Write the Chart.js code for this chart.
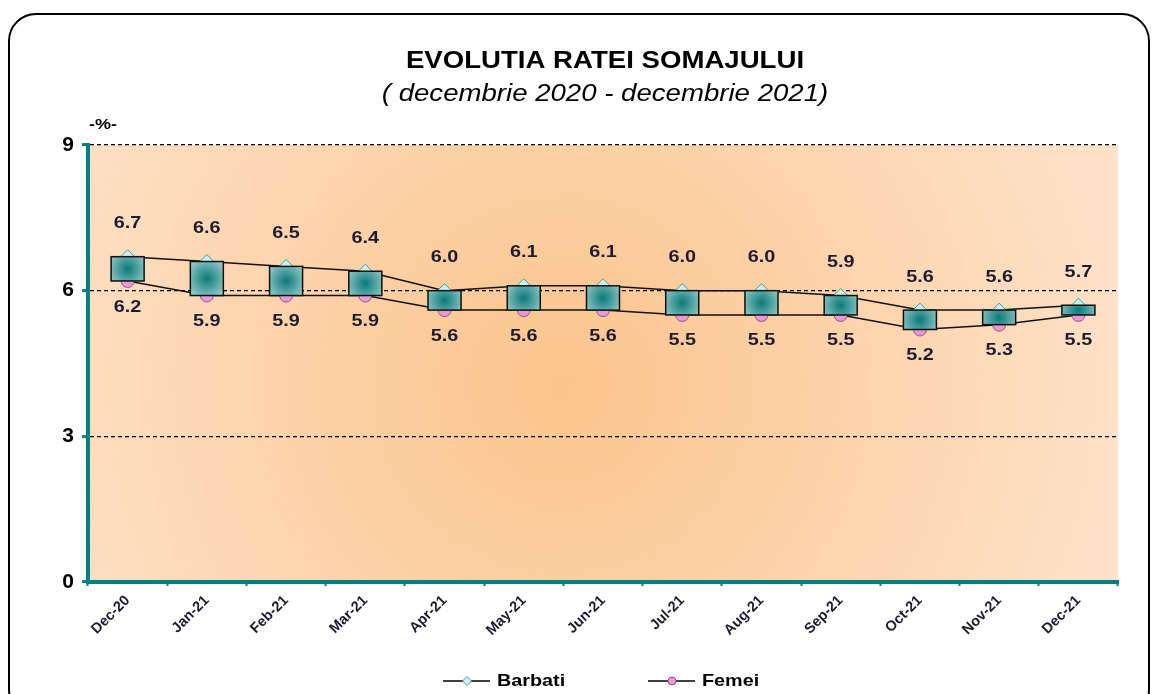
<!DOCTYPE html>
<html>
<head>
<meta charset="utf-8">
<script src="https://cdn.jsdelivr.net/npm/chart.js@4/dist/chart.umd.min.js"></script>
<style>
    html, body { margin: 0; padding: 0; background: #fff; overflow: hidden; }
    #wrap { position: relative; width: 1154px; height: 694px; }
    #frame {
        position: absolute; left: 8px; top: 13px; width: 1138px; height: 700px;
        border: 2px solid #000; border-radius: 28px;
    }
    #c { position: absolute; left: 0; top: 0; }
</style>
</head>
<body>
<div id="wrap">
    <div id="frame"></div>
    <canvas id="c" width="1154" height="694"></canvas>
</div>
<script>

// data
const months = ['Dec-20', 'Jan-21', 'Feb-21', 'Mar-21', 'Apr-21', 'May-21', 'Jun-21',
                'Jul-21', 'Aug-21', 'Sep-21', 'Oct-21', 'Nov-21', 'Dec-21'];
const barbati = [6.7, 6.6, 6.5, 6.4, 6.0, 6.1, 6.1, 6.0, 6.0, 5.9, 5.6, 5.6, 5.7];
const femei   = [6.2, 5.9, 5.9, 5.9, 5.6, 5.6, 5.6, 5.5, 5.5, 5.5, 5.2, 5.3, 5.5];
const yTicks  = [0, 3, 6, 9];

const titleText = 'EVOLUTIA RATEI SOMAJULUI';
const subtitleText = '( decembrie 2020 - decembrie 2021)';

const TEAL = '#008080';
const LABEL_COLOR = '#1b1b33';
const FONT = '"Liberation Sans", Arial, sans-serif';
const STRETCH = 1.2; // text in the original is drawn a bit wider than plain Arial

// up/down boxes between the two series (low = femei, high = barbati)
const upDown = months.map((m, i) => [femei[i], barbati[i]]);

// draw text scaled horizontally around its anchor
function stretchedText(ctx, text, x, y, font, align) {
    ctx.save();
    ctx.font = font;
    ctx.textAlign = align || 'center';
    ctx.textBaseline = 'middle';
    ctx.translate(x, y);
    ctx.scale(STRETCH, 1);
    ctx.fillText(text, 0, 0);
    ctx.restore();
}

// peach radial background of the plot area
const plotBackground = {
    id: 'plotBackground',
    beforeDraw(chart) {
        const { ctx, chartArea: a } = chart;
        const cx = a.left + (a.right - a.left) * 0.46;
        const cy = a.top + (a.bottom - a.top) * 0.55;
        const g = ctx.createRadialGradient(cx, cy, 0, cx, cy, 560);
        g.addColorStop(0, '#fbc48c');
        g.addColorStop(1, '#fee1c7');
        ctx.save();
        ctx.fillStyle = g;
        ctx.fillRect(a.left, a.top, a.right - a.left, a.bottom - a.top);
        ctx.restore();
    }
};

// paint teal gradient inside every up/down box
const boxFill = {
    id: 'boxFill',
    afterDatasetDraw(chart, args) {
        if (args.meta.type !== 'bar') return;
        const ctx = chart.ctx;
        ctx.save();
        args.meta.data.forEach(el => {
            const p = el.getProps(['x', 'y', 'base', 'width'], true);
            const top = Math.min(p.y, p.base), h = Math.abs(p.base - p.y);
            const left = p.x - p.width / 2;
            const cy = top + h / 2;
            const g = ctx.createRadialGradient(p.x, cy, 0, p.x, cy, Math.max(p.width, h) * 0.7);
            g.addColorStop(0, '#0b7a7a');
            g.addColorStop(1, '#a6d4d2');
            ctx.fillStyle = g;
            ctx.fillRect(left, top, p.width, h);
            ctx.lineWidth = 1.5;
            ctx.strokeStyle = '#111';
            ctx.strokeRect(left, top, p.width, h);
        });
        ctx.restore();
    }
};

// titles, value labels and the unit above the value axis
const textLayer = {
    id: 'textLayer',
    afterDatasetsDraw(chart) {
        const ctx = chart.ctx;
        ctx.save();
        ctx.fillStyle = '#000';
        stretchedText(ctx, titleText, 605, 62, 'bold 23px ' + FONT);
        stretchedText(ctx, subtitleText, 605, 95, 'italic 23px ' + FONT);
        stretchedText(ctx, '-%-', chart.chartArea.left + 15, chart.chartArea.top - 20, 'bold 15px ' + FONT);

        ctx.fillStyle = LABEL_COLOR;
        chart.data.datasets.forEach((ds, di) => {
            if (!ds.labelOffset) return;
            chart.getDatasetMeta(di).data.forEach((pt, i) => {
                stretchedText(ctx, ds.data[i].toFixed(1), pt.x, pt.y + ds.labelOffset, 'bold 16.5px ' + FONT);
            });
        });
        ctx.restore();
    }
};

// legend: short line with the series marker, then the name
const lineLegend = {
    id: 'lineLegend',
    afterDraw(chart) {
        const ctx = chart.ctx;
        const y = 681;
        const items = [
            { text: 'Barbati', x: 443, ds: chart.data.datasets[1] },
            { text: 'Femei', x: 648, ds: chart.data.datasets[2] }
        ];
        ctx.save();
        items.forEach(it => {
            const mx = it.x + 24;
            ctx.strokeStyle = '#000';
            ctx.lineWidth = 1.5;
            ctx.beginPath();
            ctx.moveTo(it.x, y);
            ctx.lineTo(it.x + 47, y);
            ctx.stroke();
            ctx.fillStyle = it.ds.pointBackgroundColor;
            ctx.strokeStyle = it.ds.pointBorderColor;
            ctx.lineWidth = 1;
            ctx.beginPath();
            if (it.ds.pointStyle === 'circle') {
                ctx.arc(mx, y, 4, 0, Math.PI * 2);
            } else {
                ctx.moveTo(mx, y - 4.5);
                ctx.lineTo(mx + 4.5, y);
                ctx.lineTo(mx, y + 4.5);
                ctx.lineTo(mx - 4.5, y);
                ctx.closePath();
            }
            ctx.fill();
            ctx.stroke();
            ctx.fillStyle = '#000';
            stretchedText(ctx, it.text, it.x + 54, y, 'bold 16.5px ' + FONT, 'left');
        });
        ctx.restore();
    }
};

new Chart(document.getElementById('c'), {
    data: {
        labels: months,
        datasets: [
            {
                type: 'bar',
                label: 'updown',
                data: upDown,
                backgroundColor: '#5aa8a6',
                borderWidth: 0,
                barThickness: 33,
                order: 0
            },
            {
                type: 'line',
                label: 'Barbati',
                data: barbati,
                borderColor: '#111',
                borderWidth: 1.5,
                tension: 0,
                pointStyle: 'rectRot',
                pointRadius: 7,
                pointBackgroundColor: '#c6f2f2',
                pointBorderColor: '#4f9a9a',
                pointBorderWidth: 1,
                labelOffset: -33,
                order: 1
            },
            {
                type: 'line',
                label: 'Femei',
                data: femei,
                borderColor: '#111',
                borderWidth: 1.5,
                tension: 0,
                pointStyle: 'circle',
                pointRadius: 6.5,
                pointBackgroundColor: '#e79ad6',
                pointBorderColor: '#9a4f8a',
                pointBorderWidth: 1,
                labelOffset: 26,
                order: 2
            }
        ]
    },
    options: {
        responsive: false,
        devicePixelRatio: 1,
        animation: false,
        layout: { padding: { left: 0, right: 36, top: 145, bottom: 42 } },
        plugins: {
            legend: { display: false },
            tooltip: { enabled: false }
        },
        scales: {
            x: {
                offset: true,
                grid: {
                    display: true,
                    offset: true,
                    drawOnChartArea: false,
                    drawTicks: true,
                    tickLength: 4,
                    tickColor: TEAL,
                    tickWidth: 2
                },
                border: { display: true, color: TEAL, width: 4 },
                ticks: {
                    color: LABEL_COLOR,
                    font: { family: FONT, size: 14.5, weight: 'bold' },
                    maxRotation: 45,
                    minRotation: 45,
                    padding: 6
                },
                afterFit(scale) { scale.height = 70; }
            },
            y: {
                min: 0,
                max: 9,
                afterBuildTicks(scale) { scale.ticks = yTicks.map(v => ({ value: v })); },
                grid: {
                    color: ctx => ctx.tick && ctx.tick.value === 0 ? 'rgba(0,0,0,0)' : '#000',
                    lineWidth: 1.2,
                    tickLength: 6,
                    tickColor: TEAL,
                    tickWidth: 3,
                    tickBorderDash: []
                },
                border: { display: true, color: TEAL, width: 4, dash: [4, 3] },
                ticks: {
                    color: '#000',
                    font: { family: FONT, size: 21, weight: 'bold' },
                    padding: 8
                },
                afterFit(scale) { scale.width = 88; }
            }
        }
    },
    plugins: [plotBackground, boxFill, textLayer, lineLegend]
});
</script>
</body>
</html>
